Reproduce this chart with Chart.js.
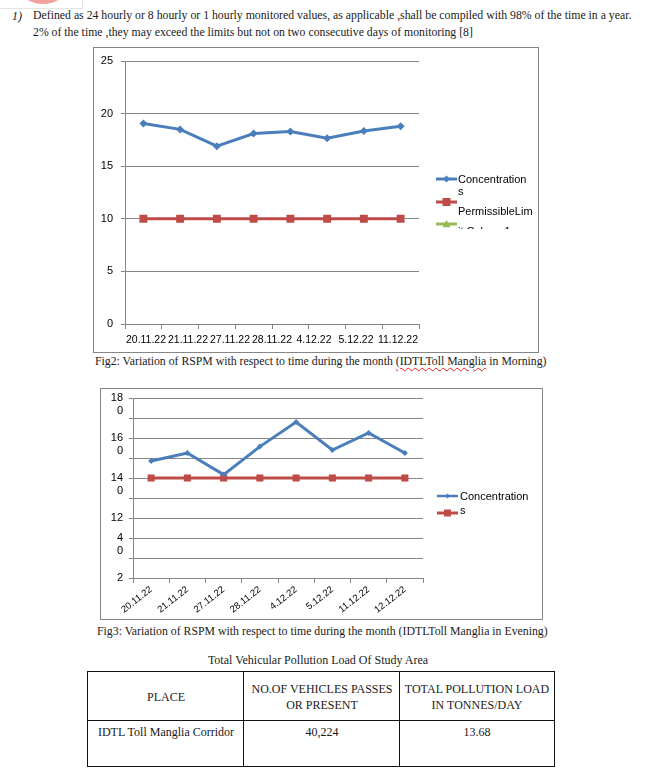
<!DOCTYPE html>
<html><head><meta charset="utf-8">
<script src="https://cdn.jsdelivr.net/npm/chart.js@4.4.0/dist/chart.umd.min.js"></script>
<style>
html,body{margin:0;padding:0;background:#fff;}
body{width:647px;height:775px;position:relative;overflow:hidden;font-family:"Liberation Serif","Times New Roman",serif;color:#1a1a1a;}
.t{position:absolute;white-space:nowrap;font-size:12px;line-height:1;transform:translateY(-50%);}
.c{position:absolute;white-space:nowrap;font-size:12px;line-height:1;transform:translate(-50%,-50%);}
canvas{position:absolute;}
.sq{text-decoration:underline wavy #e02020;text-decoration-thickness:1px;text-underline-offset:2px;}
</style></head>
<body>
<div style="position:absolute;left:-1px;top:-1px;width:82px;height:8px;border:1px solid #e4e4e4;"></div>
<div style="position:absolute;left:20px;top:-27px;width:46px;height:31px;border-radius:50%;background:#f2a29d;"></div>

<div class="t" style="left:12px;top:16px;font-style:italic">1)</div>
<div class="t" id="l1" style="left:33px;top:16px">Defined as 24 hourly or 8 hourly or 1 hourly monitored values, as applicable ,shall be compiled with 98% of the time in a year.</div>
<div class="t" id="l2" style="left:33px;top:33px">2% of the time ,they may exceed the limits but not on two consecutive days of monitoring [8]</div>

<canvas id="c1" width="446" height="306" style="left:93px;top:47px"></canvas>
<div class="t" id="cap1" style="left:95px;top:362px">Fig2: Variation of RSPM with respect to time during the month <span class="sq">(IDTLToll Manglia</span> in Morning)</div>

<canvas id="c2" width="443" height="232" style="left:100px;top:388px"></canvas>
<div class="t" id="cap2" style="left:97px;top:632px">Fig3: Variation of RSPM with respect to time during the month (IDTLToll Manglia in Evening)</div>

<div class="c" id="ttl" style="left:318px;top:660px">Total Vehicular Pollution Load Of Study Area</div>
<div style="position:absolute;left:87px;top:671px;width:468px;height:96px;border:1px solid #111;box-sizing:border-box;"></div>
<div style="position:absolute;left:87px;top:720px;width:468px;height:1px;background:#111;"></div>
<div style="position:absolute;left:243px;top:671px;width:1px;height:96px;background:#111;"></div>
<div style="position:absolute;left:399px;top:671px;width:1px;height:96px;background:#111;"></div>
<div class="c" style="left:166px;top:697px">PLACE</div>
<div class="c" style="left:322px;top:689px">NO.OF VEHICLES PASSES</div>
<div class="c" style="left:322px;top:705px">OR PRESENT</div>
<div class="c" style="left:477px;top:689px">TOTAL POLLUTION LOAD</div>
<div class="c" style="left:477px;top:705px">IN TONNES/DAY</div>
<div class="c" style="left:166px;top:732px">IDTL Toll Manglia Corridor</div>
<div class="c" style="left:322px;top:732px">40,224</div>
<div class="c" style="left:477px;top:732px">13.68</div>

<script>
// ---------- data ----------
const dates = ['20.11.22','21.11.22','27.11.22','28.11.22','4.12.22','5.12.22','11.12.22','12.12.22'];
const xTickLabels1 = ['20.11.22','21.11.22','27.11.22','28.11.22','4.12.22','5.12.22','11.12.22'];
const concMorning = [19.05,18.5,16.9,18.1,18.3,17.65,18.35,18.8];
const limitMorning = [10,10,10,10,10,10,10,10];
const column1 = [];
const yTickValues2 = [90,100,110,120,130,140,150,160,170,180];
const yTickLabels2 = [['2'],[''],['','4','0'],['12'],[''],['','14','0'],[''],['','16','0'],[''],['','18','0']];
const concEvening = [148.5,152.5,141.7,155.7,168,154,162.5,152.5];
const limitEvening = [140,140,140,140,140,140,140,140];

// ---------- text fitting ----------
function fitW(id,w){const el=document.getElementById(id);const r=el.getBoundingClientRect().width;const fs=parseFloat(getComputedStyle(el).fontSize);el.style.fontSize=(fs*w/r)+'px';}
fitW('l1',599); fitW('l2',440); fitW('cap1',452); fitW('cap2',451);

const BLUE='#4A7EBB', RED='#BE4B48', GREEN='#98B954', GRID='#868686';
const SANS='"Liberation Sans", Arial, sans-serif';

function marker(c,style,x,y,r,color){
  c.save();c.fillStyle=color;c.beginPath();
  if(style==='rectRot'){c.moveTo(x,y-r);c.lineTo(x+r,y);c.lineTo(x,y+r);c.lineTo(x-r,y);c.closePath();}
  else if(style==='rect'){c.rect(x-r,y-r,2*r,2*r);}
  else if(style==='triangle'){c.moveTo(x,y-r);c.lineTo(x+r,y+r*0.8);c.lineTo(x-r,y+r*0.8);c.closePath();}
  c.fill();c.restore();
}
const framePlugin={id:'frame',
  beforeDraw(ch){const c=ch.ctx;c.save();c.fillStyle='#fff';c.fillRect(0,0,ch.width,ch.height);c.restore();},
  afterDraw(ch){const c=ch.ctx;c.save();c.strokeStyle=GRID;c.lineWidth=1;c.strokeRect(0.5,0.5,ch.width-1,ch.height-1);c.restore();}};
function legendPlugin(items,texts,clipBottom){return {id:'lg',afterDraw(ch){
  const c=ch.ctx;c.save();c.beginPath();c.rect(0,0,ch.width-2,clipBottom);c.clip();
  items.forEach(it=>{const ds=ch.data.datasets[it.ds];c.strokeStyle=ds.borderColor;c.lineWidth=it.lw;c.beginPath();c.moveTo(it.x0,it.y);c.lineTo(it.x1,it.y);c.stroke();
    marker(c,ds.pointStyle,(it.x0+it.x1)/2,it.y,it.r,ds.backgroundColor);});
  c.fillStyle='#000';c.font='11px '+SANS;c.textBaseline='middle';c.textAlign='left';
  texts.forEach(t=>c.fillText(t[0],t[1],t[2]));
  c.restore();}};}

// ---------- chart 1 ----------
new Chart(document.getElementById('c1'),{
  type:'line',
  data:{labels:dates,datasets:[
    {label:'Concentrations',data:concMorning,borderColor:BLUE,backgroundColor:BLUE,borderWidth:3,pointStyle:'rectRot',pointRadius:4,pointBorderWidth:0,tension:0},
    {label:'PermissibleLimit',data:limitMorning,borderColor:RED,backgroundColor:RED,borderWidth:3,pointStyle:'rect',pointRadius:5.6,pointBorderWidth:0,tension:0},
    {label:'Column1',data:column1,borderColor:GREEN,backgroundColor:GREEN,borderWidth:3,pointStyle:'triangle',pointRadius:4,pointBorderWidth:0}
  ]},
  options:{responsive:false,animation:false,devicePixelRatio:1,
    layout:{padding:{left:0,right:120,top:14,bottom:0}},
    plugins:{legend:{display:false},tooltip:{enabled:false}},
    scales:{
      x:{type:'category',offset:true,weight:0,
        grid:{offset:true,drawOnChartArea:false,drawTicks:true,tickLength:5,color:GRID},
        border:{color:GRID},ticks:{display:false},afterFit(s){s.height=5;}},
      x2:{type:'category',labels:xTickLabels1,position:'bottom',offset:true,weight:1,
        grid:{display:false,drawTicks:false},border:{display:false},
        ticks:{font:{family:SANS,size:10.5},color:'#000',padding:5,maxRotation:0,minRotation:0,autoSkip:false},
        afterFit(s){s.height=24;s.paddingLeft=0;s.paddingRight=0;}},
      y:{min:0,max:25,
        ticks:{stepSize:5,font:{family:SANS,size:11},color:'#000',padding:8},
        grid:{color:GRID,tickLength:4},border:{color:GRID},
        afterFit(s){s.width=32;s.paddingTop=0;s.paddingBottom=0;}}
    }},
  plugins:[framePlugin,legendPlugin(
    [{ds:0,x0:343,x1:364,y:132,r:3.5,lw:3},{ds:1,x0:343,x1:364,y:155,r:4,lw:3},{ds:2,x0:343,x1:364,y:177,r:4,lw:3}],
    [['Concentration',365,133],['s',365,145],['PermissibleLim',365,165],['it Column1',365,185]],182)]
});

// ---------- chart 2 ----------
new Chart(document.getElementById('c2'),{
  type:'line',
  data:{labels:dates,datasets:[
    {label:'Concentrations',data:concEvening,borderColor:BLUE,backgroundColor:BLUE,borderWidth:3,pointStyle:'rectRot',pointRadius:3,pointBorderWidth:0,tension:0},
    {label:'PermissibleLimit',data:limitEvening,borderColor:RED,backgroundColor:RED,borderWidth:3,pointStyle:'rect',pointRadius:5,pointBorderWidth:0,tension:0}
  ]},
  options:{responsive:false,animation:false,devicePixelRatio:1,
    layout:{padding:{left:0,right:120,top:10,bottom:0}},
    plugins:{legend:{display:false},tooltip:{enabled:false}},
    scales:{
      x:{type:'category',offset:true,
        grid:{offset:true,drawOnChartArea:false,drawTicks:true,tickLength:5,color:GRID},
        border:{color:GRID},
        ticks:{font:{family:SANS,size:9.5},color:'#000',padding:1,minRotation:38,maxRotation:38,autoSkip:false},
        afterFit(s){s.height=42;s.paddingLeft=0;s.paddingRight=0;}},
      y:{min:90,max:180,
        afterBuildTicks(s){s.ticks=yTickValues2.map(v=>({value:v}));},
        ticks:{font:{family:SANS,size:11,lineHeight:1.15},color:'#000',padding:6,autoSkip:false,
          callback:(v)=>{const i=yTickValues2.indexOf(v);return i>=0?yTickLabels2[i]:'';}},
        grid:{color:GRID,tickLength:4},border:{color:GRID},
        afterFit(s){s.width=33;s.paddingTop=0;s.paddingBottom=0;}}
    }},
  plugins:[framePlugin,legendPlugin(
    [{ds:0,x0:337,x1:358,y:108,r:2.5,lw:2.5},{ds:1,x0:337,x1:358,y:125,r:3.5,lw:3}],
    [['Concentration',360,109],['s',360,123]],230)]
});
</script>
</body></html>
